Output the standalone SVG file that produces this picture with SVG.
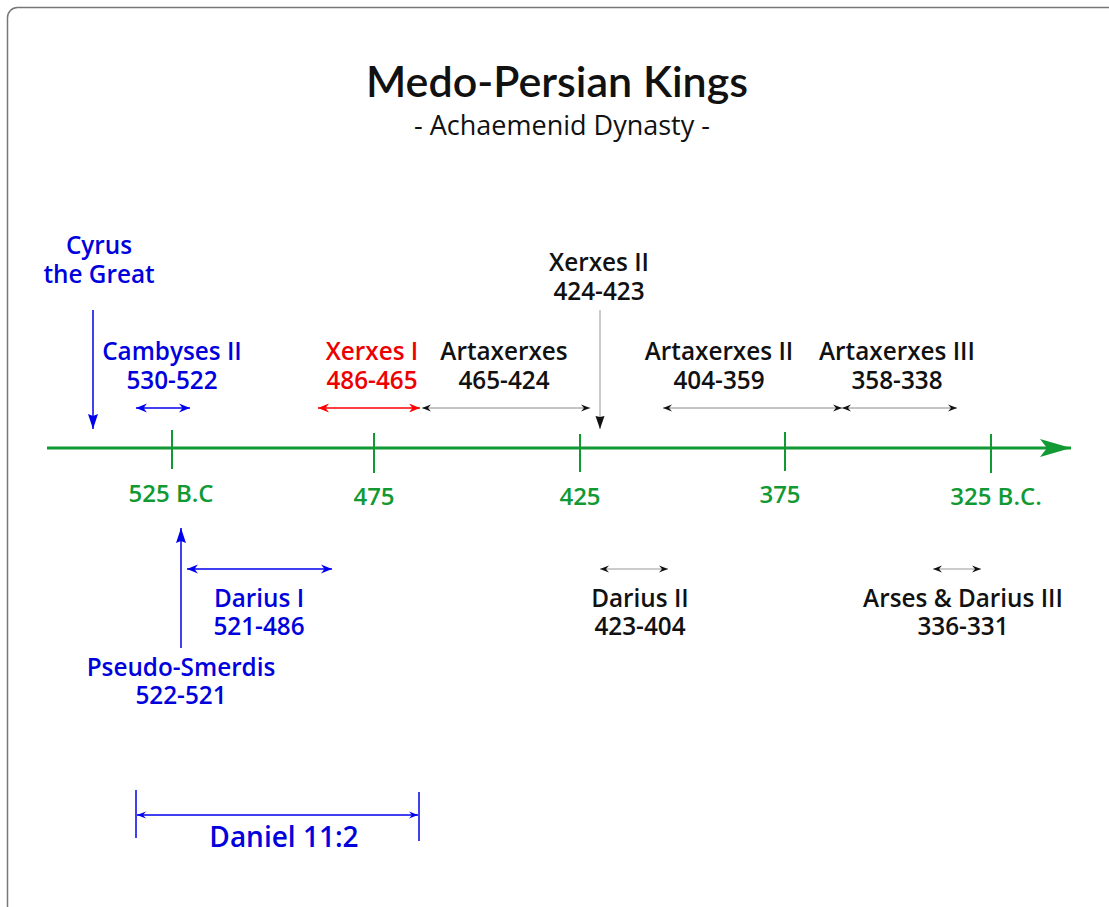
<svg xmlns="http://www.w3.org/2000/svg" width="1109" height="907" viewBox="0 0 1109 907">
<style>
.lbl{font-family:"Open Sans","Noto Sans",sans-serif;font-weight:600;font-size:24.3px;text-anchor:middle}
.blue{fill:#0000dd}
.red{fill:#ee0000}
.blk{fill:#111}
.grn{fill:#119933;font-family:"Open Sans","Noto Sans",sans-serif;font-weight:600;font-size:24px;text-anchor:middle}
.ax{stroke:#119933;stroke-width:3;fill:none}
.tick{stroke:#119933;stroke-width:2;fill:none}
</style>
<defs>
<marker id="hb" viewBox="-11 -5 12 10" markerWidth="12" markerHeight="10" refX="0" refY="0" orient="auto-start-reverse" markerUnits="userSpaceOnUse">
<path d="M0,0 L-11,-4.5 L-7.5,0 L-11,4.5 Z" fill="#0000ee"/>
</marker>
<marker id="hr" viewBox="-11 -5 12 10" markerWidth="12" markerHeight="10" refX="0" refY="0" orient="auto-start-reverse" markerUnits="userSpaceOnUse">
<path d="M0,0 L-11,-4.5 L-7.5,0 L-11,4.5 Z" fill="#ff0000"/>
</marker>
<marker id="hk" viewBox="-9 -4 10 8" markerWidth="10" markerHeight="8" refX="0" refY="0" orient="auto-start-reverse" markerUnits="userSpaceOnUse">
<path d="M0,0 L-9,-3.5 L-6,0 L-9,3.5 Z" fill="#111"/>
</marker>
<marker id="hbs" viewBox="-9 -4 10 8" markerWidth="10" markerHeight="8" refX="0" refY="0" orient="auto-start-reverse" markerUnits="userSpaceOnUse">
<path d="M0,0 L-9,-3.5 L-6,0 L-9,3.5 Z" fill="#0000ee"/>
</marker>
<marker id="tb" viewBox="-16 -7 17 14" markerWidth="17" markerHeight="14" refX="0" refY="0" orient="auto" markerUnits="userSpaceOnUse">
<path d="M0,0 L-15,-5 L-13,0 L-15,5 Z" fill="#0000ee"/>
</marker>
<marker id="tk" viewBox="-14 -6 15 12" markerWidth="15" markerHeight="12" refX="0" refY="0" orient="auto" markerUnits="userSpaceOnUse">
<path d="M0,0 L-13,-4.5 L-12,0 L-13,4.5 Z" fill="#111"/>
</marker>
<marker id="tg" viewBox="-32 -10 33 20" markerWidth="33" markerHeight="20" refX="0" refY="0" orient="auto" markerUnits="userSpaceOnUse">
<path d="M0,0 L-31,-9 L-24,0 L-31,9 Z" fill="#119933"/>
</marker>
</defs>
<rect x="7.5" y="7.5" width="1120" height="920" rx="10" ry="10" fill="#fff" stroke="#777" stroke-width="1.5"/>
<g id="title">
<text x="557" y="97" style="font-family:Lato,'Open Sans',sans-serif;font-size:43px;font-weight:600;text-anchor:middle" fill="#111">Medo-Persian Kings</text>
<text x="562" y="135" style="font-family:'Open Sans','Noto Sans',sans-serif;font-size:27px;text-anchor:middle" fill="#111">- Achaemenid Dynasty -</text>
</g>
<g id="connectors">
<line x1="47" y1="448" x2="1071" y2="448" class="ax" marker-end="url(#tg)"/>
<line x1="172" y1="430" x2="172" y2="469" class="tick"/>
<line x1="374" y1="433" x2="374" y2="473" class="tick"/>
<line x1="580" y1="434" x2="580" y2="472" class="tick"/>
<line x1="785" y1="432" x2="785" y2="471" class="tick"/>
<line x1="991" y1="434" x2="991" y2="473" class="tick"/>
<line x1="93" y1="310" x2="93" y2="429" stroke="#0000ee" stroke-width="1.5" marker-end="url(#tb)"/>
<line x1="136" y1="408" x2="190" y2="408" stroke="#0000ee" stroke-width="1.5" marker-start="url(#hb)" marker-end="url(#hb)"/>
<line x1="318" y1="408" x2="420" y2="408" stroke="#ff0000" stroke-width="1.5" marker-start="url(#hr)" marker-end="url(#hr)"/>
<line x1="422" y1="408" x2="590" y2="408" stroke="#888" stroke-width="1" marker-start="url(#hk)" marker-end="url(#hk)"/>
<line x1="600" y1="310" x2="600" y2="429" stroke="#999" stroke-width="1" marker-end="url(#tk)"/>
<line x1="663" y1="408" x2="842" y2="408" stroke="#888" stroke-width="1" marker-start="url(#hk)" marker-end="url(#hk)"/>
<line x1="842" y1="408" x2="957" y2="408" stroke="#888" stroke-width="1" marker-start="url(#hk)" marker-end="url(#hk)"/>
<line x1="181" y1="648" x2="181" y2="528" stroke="#0000ee" stroke-width="1.5" marker-end="url(#tb)"/>
<line x1="187" y1="569" x2="332" y2="569" stroke="#0000ee" stroke-width="1.5" marker-start="url(#hb)" marker-end="url(#hb)"/>
<line x1="600" y1="569" x2="668" y2="569" stroke="#999" stroke-width="1" marker-start="url(#hk)" marker-end="url(#hk)"/>
<line x1="933" y1="569" x2="981" y2="569" stroke="#999" stroke-width="1" marker-start="url(#hk)" marker-end="url(#hk)"/>
<line x1="136" y1="790" x2="136" y2="838" stroke="#0000ee" stroke-width="1.5"/>
<line x1="419" y1="792" x2="419" y2="841" stroke="#0000ee" stroke-width="1.5"/>
<line x1="137" y1="815" x2="418" y2="815" stroke="#0000ee" stroke-width="1.5" marker-start="url(#hbs)" marker-end="url(#hbs)"/>
</g>
<g id="axis-labels">
<text x="171" y="502" class="grn">525 B.C</text>
<text x="374" y="505" class="grn">475</text>
<text x="580" y="505" class="grn">425</text>
<text x="780" y="503" class="grn">375</text>
<text x="996" y="505" class="grn">325 B.C.</text>
</g>
<g id="cyrus"><text x="99" y="254" class="lbl blue">Cyrus</text><text x="99" y="283" class="lbl blue">the Great</text></g>
<g id="cambyses"><text x="172" y="360" class="lbl blue">Cambyses II</text><text x="172" y="389" class="lbl blue">530-522</text></g>
<g id="xerxes1"><text x="372" y="360" class="lbl red">Xerxes I</text><text x="372" y="389" class="lbl red">486-465</text></g>
<g id="artaxerxes"><text x="504" y="360" class="lbl blk">Artaxerxes</text><text x="504" y="389" class="lbl blk">465-424</text></g>
<g id="xerxes2"><text x="599" y="271" class="lbl blk">Xerxes II</text><text x="599" y="300" class="lbl blk">424-423</text></g>
<g id="artaxerxes2"><text x="719" y="360" class="lbl blk">Artaxerxes II</text><text x="719" y="389" class="lbl blk">404-359</text></g>
<g id="artaxerxes3"><text x="897" y="360" class="lbl blk">Artaxerxes III</text><text x="897" y="389" class="lbl blk">358-338</text></g>
<g id="darius1"><text x="259" y="607" class="lbl blue">Darius I</text><text x="259" y="635" class="lbl blue">521-486</text></g>
<g id="smerdis"><text x="181" y="676" class="lbl blue">Pseudo-Smerdis</text><text x="181" y="704" class="lbl blue">522-521</text></g>
<g id="darius2"><text x="640" y="607" class="lbl blk">Darius II</text><text x="640" y="635" class="lbl blk">423-404</text></g>
<g id="arses"><text x="963" y="607" class="lbl blk">Arses &amp; Darius III</text><text x="963" y="635" class="lbl blk">336-331</text></g>
<g id="daniel"><text x="284" y="847" class="lbl blue" style="font-size:28px">Daniel 11:2</text></g>
</svg>
